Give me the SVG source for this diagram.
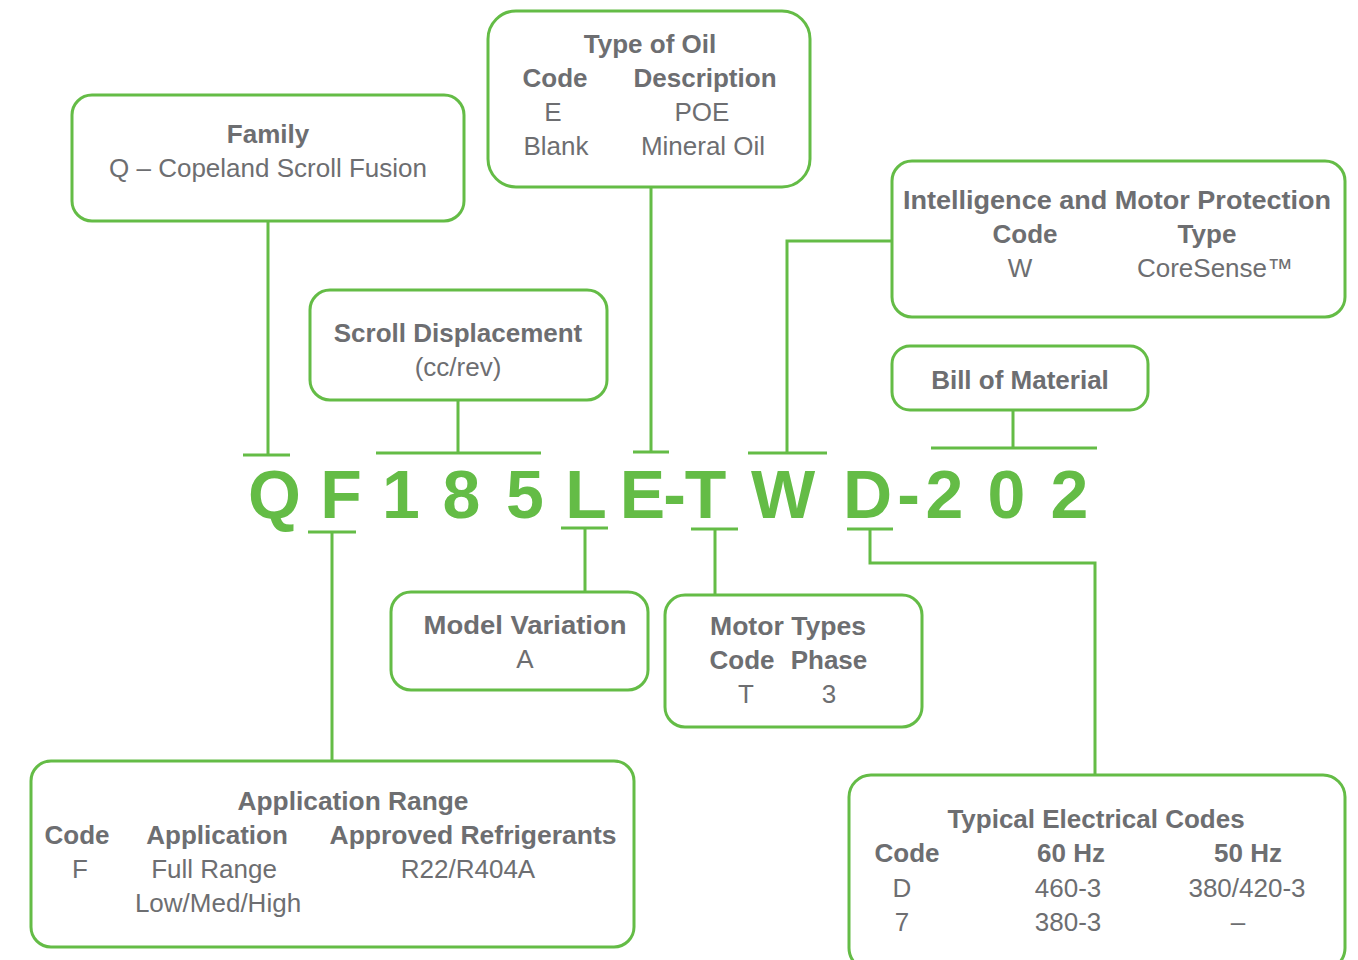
<svg xmlns="http://www.w3.org/2000/svg" width="1358" height="960" viewBox="0 0 1358 960">
<style>
.box{fill:#fff;stroke:#64bc46;stroke-width:3}
.ln{fill:none;stroke:#64bc46;stroke-width:3}
text{font-family:"Liberation Sans",Arial,sans-serif;fill:#6d6e71;font-size:26px;text-anchor:middle}
.b{font-weight:bold}
.big{font-weight:bold;font-size:68px;fill:#64bc46}
</style>
<rect width="1358" height="960" fill="#fff"/>
<g id="connectors">
<path class="ln" d="M268,221V455M243,455H290"/>
<path class="ln" d="M458,400V453M376,453H541"/>
<path class="ln" d="M651,187V452M633,452H669"/>
<path class="ln" d="M892,241H787V453M748,453H827"/>
<path class="ln" d="M1013,410V448M931,448H1097"/>
<path class="ln" d="M308,532H356M332,532V761"/>
<path class="ln" d="M561,528H608M585,528V592"/>
<path class="ln" d="M691,529H738M715,529V595"/>
<path class="ln" d="M847,529H893M870,529V563H1095V775"/>
</g>
<g id="model-code">
<text class="big" x="274.5" y="518">Q</text>
<text class="big" x="341" y="518">F</text>
<text class="big" x="401" y="518">1</text>
<text class="big" x="461.5" y="518">8</text>
<text class="big" x="525" y="518">5</text>
<text class="big" x="586" y="518">L</text>
<text class="big" x="642.5" y="518">E</text>
<text class="big" x="674.5" y="518">-</text>
<text class="big" x="705.5" y="518">T</text>
<text class="big" x="783" y="518">W</text>
<text class="big" x="867.5" y="518">D</text>
<text class="big" x="908.5" y="518">-</text>
<text class="big" x="944.5" y="518">2</text>
<text class="big" x="1006.5" y="518">0</text>
<text class="big" x="1069.5" y="518">2</text>
</g>
<g id="family">
<rect class="box" x="72" y="95" width="392" height="126" rx="20"/>
<text class="b" x="268" y="143">Family</text>
<text x="268" y="177">Q – Copeland Scroll Fusion</text>
</g>
<g id="type-of-oil">
<rect class="box" x="488" y="11" width="322" height="176" rx="28"/>
<text class="b" x="650" y="53">Type of Oil</text>
<text class="b" x="555" y="87">Code</text>
<text class="b" x="705" y="87">Description</text>
<text x="553" y="121">E</text>
<text x="702" y="121">POE</text>
<text x="556" y="155">Blank</text>
<text x="703" y="155">Mineral Oil</text>
</g>
<g id="intelligence">
<rect class="box" x="892" y="161" width="453" height="156" rx="20"/>
<text class="b" x="1117" y="209" textLength="428" lengthAdjust="spacingAndGlyphs">Intelligence and Motor Protection</text>
<text class="b" x="1025" y="243">Code</text>
<text class="b" x="1207" y="243">Type</text>
<text x="1020" y="277">W</text>
<text x="1215" y="277">CoreSense™</text>
</g>
<g id="scroll-displacement">
<rect class="box" x="310" y="290" width="297" height="110" rx="20"/>
<text class="b" x="458" y="342">Scroll Displacement</text>
<text x="458" y="376">(cc/rev)</text>
</g>
<g id="bill-of-material">
<rect class="box" x="892" y="346" width="256" height="64" rx="18"/>
<text class="b" x="1020" y="389">Bill of Material</text>
</g>
<g id="model-variation">
<rect class="box" x="391" y="592" width="257" height="98" rx="20"/>
<text class="b" x="525" y="634" textLength="203" lengthAdjust="spacingAndGlyphs">Model Variation</text>
<text x="525" y="668">A</text>
</g>
<g id="motor-types">
<rect class="box" x="665" y="595" width="257" height="132" rx="20"/>
<text class="b" x="788" y="635" textLength="156" lengthAdjust="spacingAndGlyphs">Motor Types</text>
<text class="b" x="742" y="669">Code</text>
<text class="b" x="829" y="669">Phase</text>
<text x="746" y="703">T</text>
<text x="829" y="703">3</text>
</g>
<g id="application-range">
<rect class="box" x="31" y="761" width="603" height="186" rx="20"/>
<text class="b" x="353" y="810" textLength="231" lengthAdjust="spacingAndGlyphs">Application Range</text>
<text class="b" x="77" y="844">Code</text>
<text class="b" x="217" y="844">Application</text>
<text class="b" x="473" y="844" textLength="287" lengthAdjust="spacingAndGlyphs">Approved Refrigerants</text>
<text x="80" y="878">F</text>
<text x="214" y="878">Full Range</text>
<text x="468" y="878">R22/R404A</text>
<text x="218" y="912">Low/Med/High</text>
</g>
<g id="electrical-codes">
<rect class="box" x="849" y="775" width="496" height="195" rx="22"/>
<text class="b" x="1096" y="828">Typical Electrical Codes</text>
<text class="b" x="907" y="862">Code</text>
<text class="b" x="1071" y="862">60 Hz</text>
<text class="b" x="1248" y="862">50 Hz</text>
<text x="902" y="897">D</text>
<text x="1068" y="897">460-3</text>
<text x="1247" y="897">380/420-3</text>
<text x="902" y="931">7</text>
<text x="1068" y="931">380-3</text>
<text x="1238" y="931">–</text>
</g>
</svg>
